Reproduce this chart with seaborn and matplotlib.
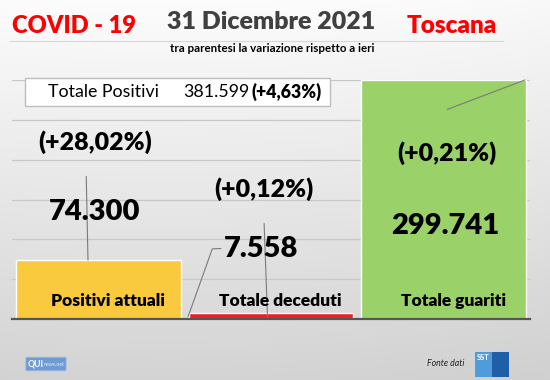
import numpy as np
import pandas as pd
import matplotlib
matplotlib.use("Agg")
import matplotlib.pyplot as plt
import seaborn as sns
from matplotlib.patches import FancyBboxPatch, Rectangle

# ---- data -------------------------------------------------------------
categories = ["Positivi attuali", "Totale deceduti", "Totale guariti"]
values = [74300, 7558, 299741]
value_labels = ["74.300", "7.558", "299.741"]
change_labels = ["(+28,02%)", "(+0,12%)", "(+0,21%)"]
bar_colors = ["#F9C93E", "#EE2026", "#9BD169"]

total_label = "Totale Positivi"
total_value = "381.599"
total_change = "(+4,63%)"

# label anchor points (category offset, value) placed by hand like an office chart
value_label_pos = [(-0.02, 134000), (0.94, 88000), (2.01, 116500)]
change_label_pos = [(-0.02, 222000), (0.96, 163000), (2.02, 208000)]
# leader lines, in (category offset, value) pairs
leaders = [
    [(-0.98, 38000), (-0.97, 135000), (-0.93, 136000)],
    [(-0.07, 179000), (-0.06, 74000)],
    [(0.52, 3000), (0.66, 88000), (0.71, 88500)],
    [(0.96, 120000), (0.98, 1500)],
    [(2.02, 263000), (2.47, 300000)],
]

sns.set_theme(style="white")
plt.rcParams["font.family"] = ["Lato", "DejaVu Sans"]

df = pd.DataFrame({"categoria": categories, "valore": values})

fig = plt.figure(figsize=(5.5, 3.8), dpi=100)

# soft grey gradient background
bg = fig.add_axes([0, 0, 1, 1], zorder=-10)
yy = np.linspace(0, 1, 256)[:, None]
xx = np.linspace(0, 1, 256)[None, :]
shade = 0.99 - 0.16 * yy - 0.03 * (xx - 0.3) ** 2
bg.imshow(np.dstack([shade] * 3), aspect="auto", extent=[0, 1, 0, 1], origin="upper")
bg.set_axis_off()

ax = fig.add_axes([12 / 550, 61 / 380, 518 / 550, 239 / 380])
ax.patch.set_alpha(0)
sns.barplot(data=df, x="categoria", y="valore", hue="categoria",
            palette=bar_colors, width=0.955, saturation=1, legend=False,
            ax=ax, zorder=2)
ax.set_ylim(0, 300000)
ax.set_xlim(-0.5, 2.5)
ax.set_yticks(np.arange(50000, 300001, 50000))
ax.yaxis.grid(True, color="#C8C8C8", linewidth=0.9, zorder=0)
ax.set_axisbelow(True)
ax.tick_params(left=False, bottom=False, labelleft=False, labelbottom=False)
ax.set_xlabel("")
ax.set_ylabel("")
for s in ["top", "right", "left"]:
    ax.spines[s].set_visible(False)
ax.spines["bottom"].set_color("#555555")
ax.spines["bottom"].set_linewidth(1.6)
ax.spines["bottom"].set_zorder(5)

# category names written inside the bars
for i, name in enumerate(categories):
    ax.text(i + 0.055, 22500, name, ha="center", va="center", fontsize=12.5,
            fontweight="heavy", color="black", zorder=6)

# values and daily changes
for i in range(len(categories)):
    vx, vy = value_label_pos[i]
    cx, cy = change_label_pos[i]
    ax.text(vx, vy, value_labels[i], ha="center", va="center", fontsize=21,
            fontweight="heavy", color="black", zorder=6)
    ax.text(cx, cy, change_labels[i], ha="center", va="center", fontsize=18,
            fontweight="heavy", color="black", zorder=6)

for pts in leaders:
    xs, ys = zip(*pts)
    ax.plot(xs, ys, color="#7A7A7A", linewidth=0.8, zorder=4, clip_on=False)

# header
fig.text(12 / 550, 1 - 26 / 380, "COVID - 19", color="#FF0000", fontsize=17,
         fontweight="heavy", ha="left", va="center")
fig.text(271 / 550, 1 - 22 / 380, "31 Dicembre 2021", color="#404040",
         fontsize=18, fontweight="heavy", ha="center", va="center")
fig.text(452 / 550, 1 - 26 / 380, "Toscana", color="#FF0000", fontsize=17.5,
         fontweight="heavy", ha="center", va="center")
fig.add_artist(plt.Line2D([10 / 550, 503 / 550], [1 - 41 / 380] * 2,
                          color="#D6D6D6", linewidth=0.8))
fig.text(272 / 550, 1 - 49 / 380, "tra parentesi la variazione rispetto a ieri",
         color="black", fontsize=8.3, fontweight="bold", ha="center", va="center")

# total positives box
fig.add_artist(Rectangle((25 / 550, 1 - 106 / 380), 305 / 550, 28 / 380,
                         facecolor="white", edgecolor="#BDBDBD", linewidth=1,
                         transform=fig.transFigure, zorder=3))
fig.text(104 / 550, 1 - 92 / 380, total_label, fontsize=12.8, ha="center",
         va="center", color="black", zorder=4)
fig.text(216 / 550, 1 - 92 / 380, total_value, fontsize=12.8, ha="center",
         va="center", color="black", zorder=4)
fig.text(287 / 550, 1 - 92 / 380, total_change, fontsize=12.8, ha="center",
         va="center", color="black", fontweight="heavy", zorder=4)

# footer
fig.add_artist(FancyBboxPatch((27 / 550, 1 - 370 / 380), 38 / 550, 12 / 380,
                              boxstyle="round,pad=0.002", facecolor="#6E9BD3",
                              edgecolor="#9DB8DD", linewidth=0.6,
                              transform=fig.transFigure))
fig.text(28 / 550, 1 - 364 / 380, "QUI", fontsize=6.2, fontweight="bold",
         color="white", ha="left", va="center")
fig.text(44 / 550, 1 - 364 / 380, "news.net", fontsize=3.8, color="#E8EEF7",
         ha="left", va="center")
fig.text(446 / 550, 1 - 363 / 380, "Fonte dati", fontsize=6.3, style="italic",
         color="#222222", ha="center", va="center")
fig.add_artist(Rectangle((475 / 550, 1 - 377 / 380), 17 / 550, 25 / 380,
                         facecolor="#4F9BDC", edgecolor="none",
                         transform=fig.transFigure))
fig.add_artist(Rectangle((492 / 550, 1 - 377 / 380), 17 / 550, 25 / 380,
                         facecolor="#1F5FA8", edgecolor="none",
                         transform=fig.transFigure))
fig.text(483 / 550, 1 - 357 / 380, "SST", fontsize=5.5, fontweight="bold",
         color="white", ha="center", va="center")

fig.savefig("out.png", dpi=100)
